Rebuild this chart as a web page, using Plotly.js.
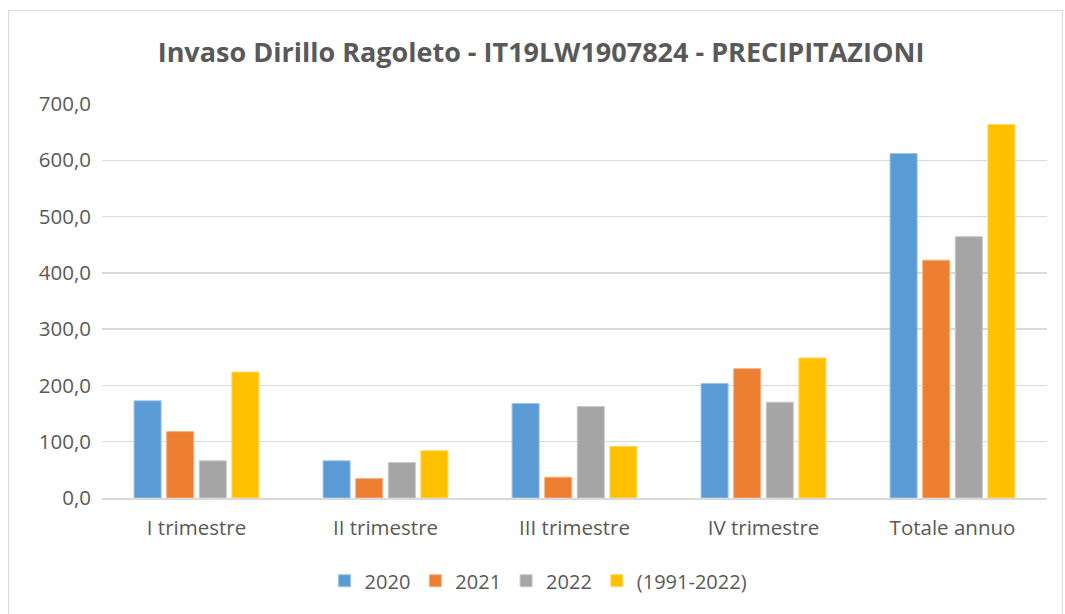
<!DOCTYPE html>
<html>
<head>
<meta charset="utf-8">
<script src="https://cdn.plot.ly/plotly-3.0.1.min.js"></script>
<style>
html,body{margin:0;padding:0;background:#fff;}
#wrap{position:relative;width:1065px;height:614px;}
#chart{position:absolute;left:0;top:0;width:1065px;height:614px;}
#frame{position:absolute;left:8px;top:10px;width:1053px;height:610px;border:1px solid #d9d9d9;pointer-events:none;}
</style>
</head>
<body>
<div id="wrap"><div id="chart"></div><div id="frame"></div></div>
<script>
const categories = ["I trimestre", "II trimestre", "III trimestre", "IV trimestre", "Totale annuo"];
const seriesNames = ["2020", "2021", "2022", "(1991-2022)"];
const v2020 = [172.6, 66.0, 167.9, 203.6, 612.0];
const v2021 = [117.9, 34.5, 36.9, 229.8, 422.6];
const v2022 = [66.0, 63.0, 162.5, 170.2, 464.3];
const vClim = [223.8, 84.0, 91.7, 248.8, 663.5];
const colors = ["#5b9bd5", "#ed7d31", "#a5a5a5", "#ffc000"];
const lineColors = ["#9dc3e6", "#f4b183", "#c9c9c9", "#ffd966"];
const yTicks = [0, 100, 200, 300, 400, 500, 600, 700];

const allVals = [v2020, v2021, v2022, vClim];
const traces = allVals.map((vals, i) => ({
  type: "bar",
  name: seriesNames[i],
  x: categories,
  y: vals,
  marker: {color: colors[i], line: {color: lineColors[i], width: 1}},
  hoverinfo: "x+y+name"
}));

const layout = {
  width: 1065, height: 614,
  margin: {l: 102, r: 18, t: 104, b: 116},
  paper_bgcolor: "#ffffff",
  plot_bgcolor: "#ffffff",
  separators: ",.",
  font: {family: "Open Sans, Liberation Sans, sans-serif", color: "#595959", size: 20},
  title: {
    text: "<b>Invaso Dirillo Ragoleto - IT19LW1907824 - PRECIPITAZIONI</b>",
    font: {family: "Open Sans, Liberation Sans, sans-serif", size: 27, color: "#595959"},
    x: 0.508, xref: "container", xanchor: "center",
    y: 0.915, yref: "container", yanchor: "middle"
  },
  barmode: "group",
  bargap: 0.31,
  bargroupgap: 0.17,
  xaxis: {
    type: "category",
    showgrid: false,
    showline: true,
    linecolor: "#d9d9d9",
    linewidth: 1.5,
    ticks: "",
    tickfont: {size: 20.5, color: "#595959"},
    ticklabelstandoff: 11
  },
  yaxis: {
    range: [0, 700],
    tickvals: yTicks,
    tickformat: ".1f",
    showgrid: true,
    gridcolor: "#d9d9d9",
    gridwidth: 1.5,
    zeroline: false,
    showline: false,
    ticks: "",
    tickfont: {size: 20.5, color: "#595959"},
    ticklabelstandoff: 10
  },
  legend: {
    orientation: "h",
    x: 0.462, xanchor: "center",
    y: -0.21, yanchor: "middle",
    font: {size: 20, color: "#595959"},
    itemwidth: 30,
    traceorder: "normal"
  },
  showlegend: true
};

Plotly.newPlot("chart", traces, layout, {displayModeBar: false, staticPlot: true});
</script>
</body>
</html>
